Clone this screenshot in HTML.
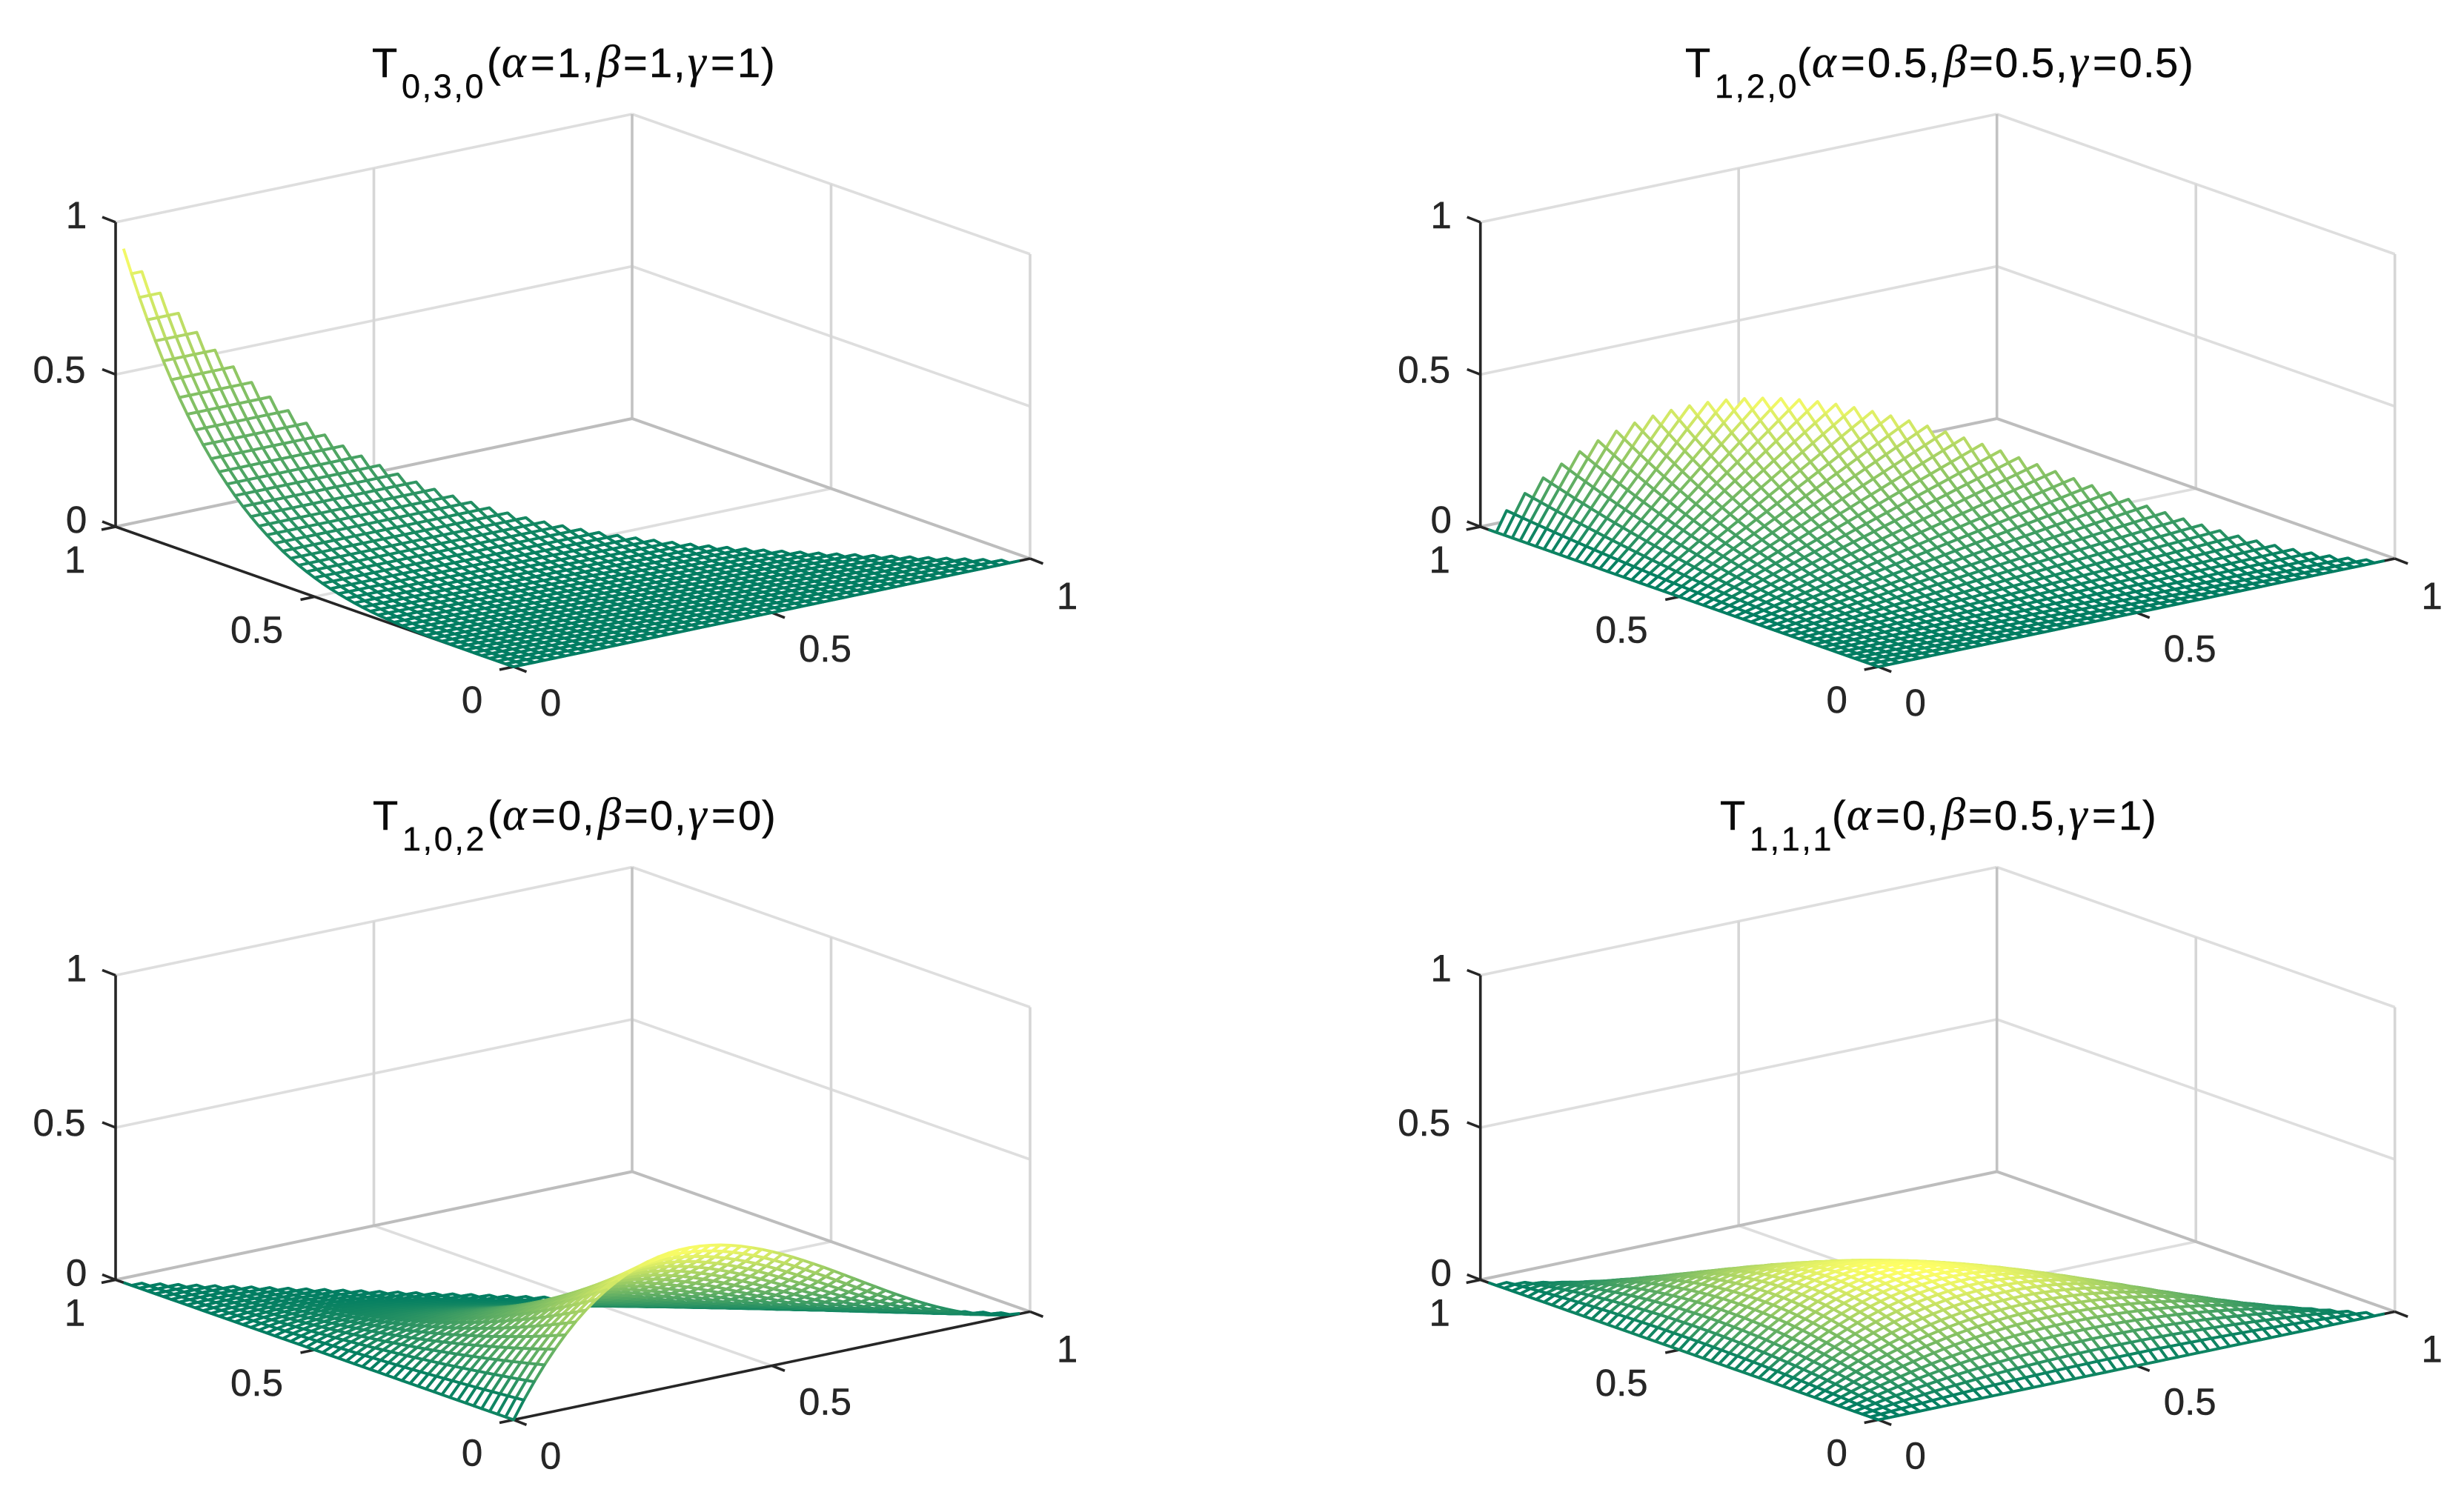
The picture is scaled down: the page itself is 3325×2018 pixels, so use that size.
<!DOCTYPE html>
<html lang="en">
<head>
<meta charset="utf-8">
<title>Generalized triangular basis surfaces</title>
<style>
html,body{margin:0;padding:0;background:#fff;width:3325px;height:2018px;overflow:hidden}
svg{display:block}
text{font-family:"Liberation Sans",sans-serif}
.title{font-size:56px;fill:#0a0a0a;stroke:#0a0a0a;stroke-width:.5px}
.sub{font-size:45px;letter-spacing:2.6px;fill:#0a0a0a;stroke:#0a0a0a;stroke-width:.4px}
.g{font-family:"Liberation Serif",serif;font-style:italic;font-size:62px}
.tick{font-size:51px;fill:#262626;stroke:#262626;stroke-width:.5px;text-anchor:middle}
</style>
</head>
<body>
<svg id="figure" xmlns="http://www.w3.org/2000/svg" width="3325" height="2018" viewBox="0 0 3325 2018">
  <rect x="0" y="0" width="3325" height="2018" fill="#fff"/>
  <g id="plots"></g>

  <g>
    <text class="title" y="104" x="502">T</text>
    <text class="sub" y="132" x="542">0,3,0</text>
    <text class="title" y="104"><tspan x="657">(</tspan><tspan class="g" x="677">α</tspan><tspan x="716 752 785">=1,</tspan><tspan class="g" x="806">β</tspan><tspan x="841 876 909">=1,</tspan><tspan class="g" x="928">γ</tspan><tspan x="959 995 1027">=1)</tspan></text>
  </g>
  <g>
    <text class="title" y="104" x="2274">T</text>
    <text class="sub" y="132" x="2314">1,2,0</text>
    <text class="title" y="104"><tspan x="2425">(</tspan><tspan class="g" x="2445">α</tspan><tspan x="2484 2520 2553 2569 2602">=0.5,</tspan><tspan class="g" x="2623">β</tspan><tspan x="2657 2692 2725 2741 2774">=0.5,</tspan><tspan class="g" x="2793">γ</tspan><tspan x="2824 2859.5 2892 2908 2941">=0.5)</tspan></text>
  </g>
  <g>
    <text class="title" y="1120" x="503">T</text>
    <text class="sub" y="1148" x="543">1,0,2</text>
    <text class="title" y="1120"><tspan x="658">(</tspan><tspan class="g" x="678">α</tspan><tspan x="717 753 786">=0,</tspan><tspan class="g" x="807">β</tspan><tspan x="842 877 910">=0,</tspan><tspan class="g" x="929">γ</tspan><tspan x="960 996 1028">=0)</tspan></text>
  </g>
  <g>
    <text class="title" y="1120" x="2321">T</text>
    <text class="sub" y="1148" x="2361">1,1,1</text>
    <text class="title" y="1120"><tspan x="2472">(</tspan><tspan class="g" x="2492">α</tspan><tspan x="2531 2567 2600">=0,</tspan><tspan class="g" x="2621">β</tspan><tspan x="2656 2691 2724 2740 2773">=0.5,</tspan><tspan class="g" x="2792">γ</tspan><tspan x="2823 2859 2891">=1)</tspan></text>
  </g>
</svg>

<script>
// Grid coordinate values along each barycentric direction (x, y, w = 1 - x - y)
const coordinates = [0,0.02,0.04,0.06,0.08,0.1,0.12,0.14,0.16,0.18,0.2,0.22,0.24,0.26,0.28,0.3,0.32,0.34,0.36,0.38,0.4,0.42,0.44,0.46,0.48,0.5,0.52,0.54,0.56,0.58,0.6,0.62,0.64,0.66,0.68,0.7,0.72,0.74,0.76,0.78,0.8,0.82,0.84,0.86,0.88,0.9,0.92,0.94,0.96,0.98,1];
const flatFactor = [1,1,1,1,1,1,1,1,1,1,1,1,1,1,1,1,1,1,1,1,1,1,1,1,1,1,1,1,1,1,1,1,1,1,1,1,1,1,1,1,1,1,1,1,1,1,1,1,1,1,1];

// Surface profiles, one value per grid coordinate
const t030Y = [0,0,0,0.00001,0.00004,0.0001,0.00021,0.00038,0.00066,0.00105,0.0016,0.00234,0.00332,0.00457,0.00615,0.0081,0.01049,0.01336,0.0168,0.02085,0.0256,0.03112,0.03748,0.04477,0.05308,0.0625,0.07312,0.08503,0.09834,0.11316,0.1296,0.14776,0.16777,0.18975,0.21381,0.2401,0.26874,0.29987,0.33362,0.37015,0.4096,0.45212,0.49787,0.54701,0.5997,0.6561,0.71639,0.78075,0.84935,0.92237,1];
const t120Y = [0,0.0012,0.0048,0.0109,0.0195,0.0305,0.0441,0.0602,0.0788,0.1001,0.124,0.1505,0.1797,0.2116,0.2462,0.2835,0.3236,0.3665,0.4121,0.4606,0.512,0.5662,0.6234,0.6835,0.7465,0.8125,0.8815,0.9535,1.0286,1.1068,1.188,1.2724,1.3599,1.4505,1.5444,1.6415,1.7418,1.8454,1.9523,2.0625,2.176,2.2929,2.4132,2.5368,2.6639,2.7945,2.9285,3.0661,3.2072,3.3518,3.5];
const t102W = [0,0.0012,0.0048,0.0108,0.0192,0.03,0.0432,0.0588,0.0768,0.0972,0.12,0.1452,0.1728,0.2028,0.2352,0.27,0.3072,0.3468,0.3888,0.4332,0.48,0.5292,0.5808,0.6348,0.6912,0.75,0.8112,0.8748,0.9408,1.0092,1.08,1.1532,1.2288,1.3068,1.3872,1.47,1.5552,1.6428,1.7328,1.8252,1.92,2.0172,2.1168,2.2188,2.3232,2.43,2.5392,2.6508,2.7648,2.8812,3];
const t111Y = [0,0.1121,0.2251,0.3391,0.4541,0.57,0.6869,0.8047,0.9235,1.0433,1.164,1.2857,1.4083,1.5319,1.6565,1.782,1.9085,2.0359,2.1643,2.2937,2.424,2.5553,2.6875,2.8207,2.9549,3.09,3.2261,3.3631,3.5011,3.6401,3.78,3.9209,4.0627,4.2055,4.3493,4.494,4.6397,4.7863,4.9339,5.0825,5.232,5.3825,5.5339,5.6863,5.8397,5.994,6.1493,6.3055,6.4627,6.6209,6.78];

// Tick values and tick labels
const axisTicks = [0,0.5,1];
const tickLabels = ["0","0.5","1"];

const SVGNS = "http://www.w3.org/2000/svg";
const plots = document.getElementById("plots");

// Each panel's surface = product of its three factors at the grid node
const panels = [
  {name:"t030", col:0, row:0, fx:flatFactor,  fy:t030Y,      fw:flatFactor},
  {name:"t120", col:1, row:0, fx:coordinates, fy:t120Y,      fw:flatFactor},
  {name:"t102", col:0, row:1, fx:coordinates, fy:flatFactor, fw:t102W},
  {name:"t111", col:1, row:1, fx:coordinates, fy:t111Y,      fw:coordinates}
];

// Axis functions (oblique 3-D projection of the unit box)
const COL_STEP = 1841.7, ROW_STEP = 1016.5;
function projectX(x, y, col){ return 156 + (1 - y) * 537 + x * 697 + col * COL_STEP; }
function projectY(x, y, z, row){ return 711 + (1 - y) * 189 - x * 146 - z * 411 + row * ROW_STEP; }
function pt(x, y, z, p){ return projectX(x, y, p.col).toFixed(1) + " " + projectY(x, y, z, p.row).toFixed(1); }

function summer(t){
  const r = Math.round(255 * t);
  const g = Math.round(125 + 130 * t);
  const b = Math.round(98 + 4 * t);
  return "rgb(" + r + "," + g + "," + b + ")";
}

function segment(parent, a, b, p, color, width){
  const el = document.createElementNS(SVGNS, "path");
  el.setAttribute("d", "M" + pt(a[0], a[1], a[2], p) + "L" + pt(b[0], b[1], b[2], p));
  el.setAttribute("stroke", color);
  el.setAttribute("stroke-width", width);
  el.setAttribute("fill", "none");
  parent.appendChild(el);
  return el;
}

function drawBox(p, parent){
  const light = "#dedede", mid = "#d6d6d6", dark = "#bdbdbd", W = 3.6;
  const grid = document.createElementNS(SVGNS, "g");
  
  
  parent.appendChild(grid);
  [0.5, 1].forEach(function(z){
    segment(grid, [0,1,z], [1,1,z], p, light, W);
    segment(grid, [1,1,z], [1,0,z], p, light, W);
  });
  segment(grid, [0.5,1,0], [0.5,1,1], p, mid, W);
  segment(grid, [1,0.5,0], [1,0.5,1], p, mid, W);
  segment(grid, [1,0,0], [1,0,1], p, mid, W);
  segment(grid, [0.5,1,0], [0.5,0,0], p, light, W);
  segment(grid, [0,0.5,0], [1,0.5,0], p, light, W);
  segment(grid, [1,1,0], [1,1,1], p, "#c2c2c2", W);
  segment(grid, [0,1,0], [1,1,0], p, dark, W + 0.4);
  segment(grid, [1,1,0], [1,0,0], p, dark, W + 0.4);
}

function tickMark(parent, sx, sy, dx, dy, name){
  const el = document.createElementNS(SVGNS, "path");
  el.setAttribute("d", "M" + sx + " " + sy + "l" + dx + " " + dy);
  el.setAttribute("stroke", "#262626");
  el.setAttribute("stroke-width", 3.6);
  el.setAttribute("fill", "none");
  
  
  parent.appendChild(el);
}

function tickText(parent, cx, cy, label, name){
  const el = document.createElementNS(SVGNS, "text");
  el.setAttribute("class", "tick");
  el.setAttribute("x", cx);
  el.setAttribute("y", cy + 18);
  
  
  el.textContent = label;
  parent.appendChild(el);
}

function drawAxes(p, parent){
  const ax = document.createElementNS(SVGNS, "g");
  
  
  parent.appendChild(ax);
  segment(ax, [0,1,0], [0,1,1], p, "#262626", 3.6);
  segment(ax, [0,1,0], [0,0,0], p, "#262626", 3.6);
  segment(ax, [0,0,0], [1,0,0], p, "#262626", 3.6);

  axisTicks.forEach(function(v, n){
    const label = tickLabels[n];
    // z axis
    tickMark(ax, projectX(0,1,p.col), projectY(0,1,v,p.row), -18, -7, "z-tick");
    // y axis
    tickMark(ax, projectX(0,v,p.col), projectY(0,v,0,p.row), -19, 4, "y-tick");
    // x axis
    tickMark(ax, projectX(v,0,p.col), projectY(v,0,0,p.row), 17.5, 6.8, "x-tick");

    tickText(ax, projectX(0,1,p.col) - (v === 0.5 ? 76 : 53), projectY(0,1,v,p.row) - (v === 0.5 ? 7 : 10), label, "z-tick-label");
    tickText(ax, projectX(0,v,p.col) - (v === 0.5 ? 78 : 55) + (v === 0 ? -1 : 0), projectY(0,v,0,p.row) + 44, label, "y-tick-label");
    tickText(ax, projectX(v,0,p.col) + (v === 0.5 ? 72 : 50), projectY(v,0,0,p.row) + (v === 1 ? 50 : 48), label, "x-tick-label");
  });
}

function drawSurface(p, parent){
  const n = coordinates.length - 1;
  const z = [];
  let lo = Infinity, hi = -Infinity;
  for (let i = 0; i <= n; i++){
    z[i] = [];
    for (let j = 0; j <= n; j++){
      const k = n - i - j;
      if (k < 1) { z[i][j] = null; continue; }
      const v = p.fx[i] * p.fy[j] * p.fw[k];
      z[i][j] = v;
      if (v < lo) lo = v;
      if (v > hi) hi = v;
    }
  }
  const span = (hi - lo) || 1;
  const col = function(v){ return summer((v - lo) / span); };

  const g = document.createElementNS(SVGNS, "g");
  
  
  g.setAttribute("stroke-width", "3.9");
  g.setAttribute("stroke-linejoin", "round");
  parent.appendChild(g);

  // Hypotenuse teeth: open zig-zags drawn first (furthest from the viewer)
  for (let s = n - 2; s >= 0; s--){
    for (let i = 0; i <= s; i++){
      const j = s - i;
      const a = z[i][j], b = z[i+1][j], c = z[i][j+1], d = z[i+1][j+1];
      if (a === null || b === null || c === null) continue;
      const path = document.createElementNS(SVGNS, "path");
      const X = coordinates[i], Y = coordinates[j], X1 = coordinates[i+1], Y1 = coordinates[j+1];
      if (d === null){
        path.setAttribute("d", "M" + pt(X1,Y,b,p) + "L" + pt(X,Y,a,p) + "L" + pt(X,Y1,c,p));
        path.setAttribute("fill", "none");
        path.setAttribute("stroke", col((a + b + c) / 3));
        
        
      } else {
        path.setAttribute("d", "M" + pt(X,Y,a,p) + "L" + pt(X1,Y,b,p) + "L" + pt(X1,Y1,d,p) + "L" + pt(X,Y1,c,p) + "Z");
        path.setAttribute("fill", "#fff");
        path.setAttribute("stroke", col((a + b + c + d) / 4));
        
        
      }
      g.appendChild(path);
    }
  }
}

panels.forEach(function(p){
  const g = document.createElementNS(SVGNS, "g");
  
  
  plots.appendChild(g);
  drawBox(p, g);
  drawAxes(p, g);
  drawSurface(p, g);
});
</script>
</body>
</html>
